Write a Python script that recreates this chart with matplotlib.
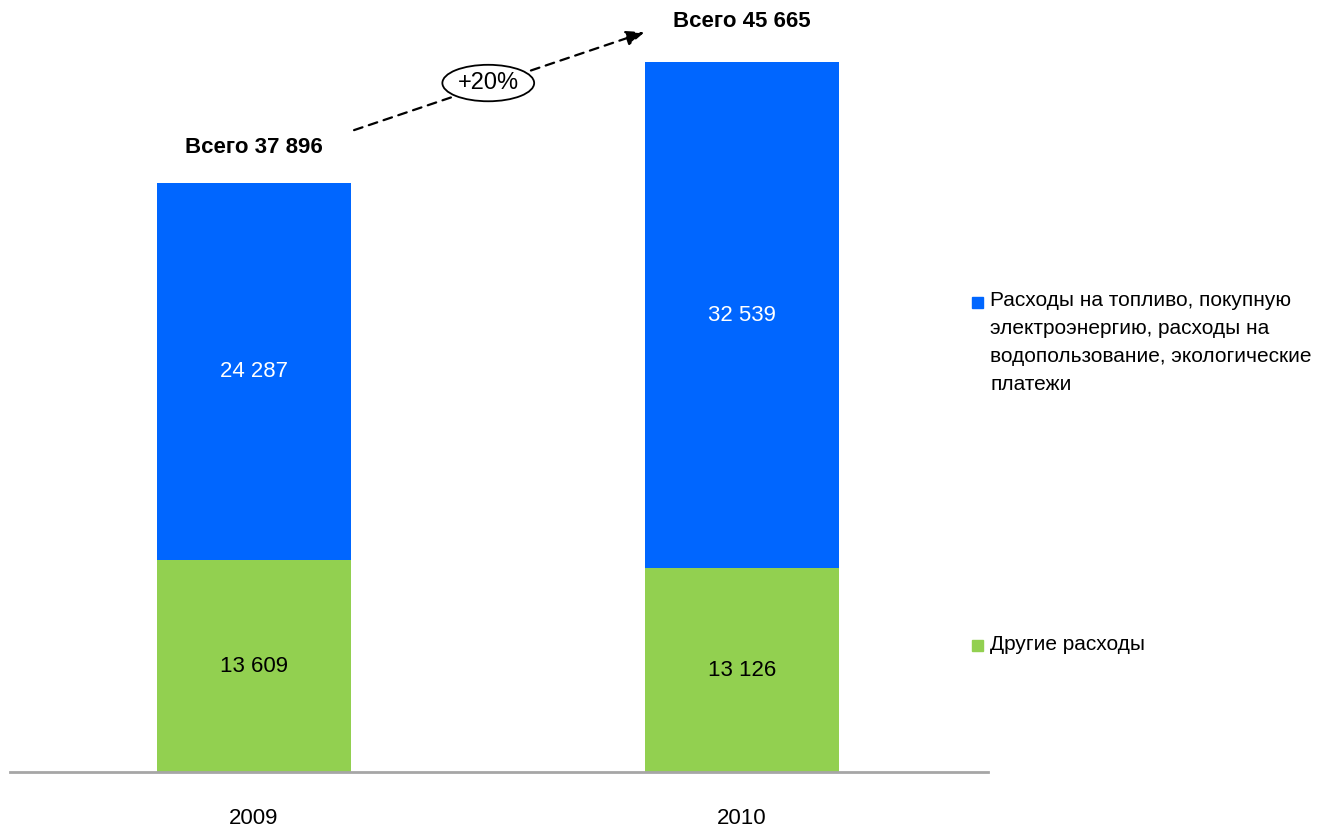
import matplotlib.pyplot as plt
from matplotlib import font_manager

years = ["2009", "2010"]
other = [13609, 13126]
fuel = [24287, 32539]
totals = [37896, 45665]
total_labels = ["Всего 37 896", "Всего 45 665"]
other_labels = ["13 609", "13 126"]
fuel_labels = ["24 287", "32 539"]
growth = "+20%"
legend_fuel = "Расходы на топливо, покупную\nэлектроэнергию, расходы на\nводопользование, экологические\nплатежи"
legend_other = "Другие расходы"

names = {f.name for f in font_manager.fontManager.ttflist}
font = "Liberation Sans Narrow" if "Liberation Sans Narrow" in names else "Liberation Sans"
plt.rcParams["font.family"] = [font, "DejaVu Sans"]

blue = "#0066FF"
green = "#92D050"

fig = plt.figure(figsize=(13.27, 8.27), dpi=100)
ax = fig.add_axes([10 / 1327, 55 / 827, 978 / 1327, 746 / 827])
x = range(len(years))
ax.bar(x, other, width=0.3975, color=green)
ax.bar(x, fuel, width=0.3975, bottom=other, color=blue)

for i in x:
    ax.text(i, other[i] / 2, other_labels[i], ha="center", va="center", fontsize=16, color="black")
    ax.text(i, other[i] + fuel[i] / 2, fuel_labels[i], ha="center", va="center", fontsize=16, color="white")

ax.text(0, totals[0] + 2300, total_labels[0], ha="center", va="center", fontsize=16, fontweight="bold")
ax.text(1, totals[1] + 2600, total_labels[1], ha="center", va="center", fontsize=16, fontweight="bold")

ax.annotate("", xy=(0.80, 47600), xytext=(0.205, 41300),
            arrowprops=dict(arrowstyle="-|>,head_length=1.1,head_width=0.45", ls=(0, (4, 3)),
                            color="black", lw=1.6, shrinkA=0, shrinkB=0))
ax.text(0.48, 44330, growth, ha="center", va="center", fontsize=17,
        bbox=dict(boxstyle="ellipse,pad=0.08", fc="white", ec="black", lw=1.3))

ax.set_xlim(-0.5, 1.504)
ax.set_ylim(0, 48000)
for s in ["top", "right", "left"]:
    ax.spines[s].set_visible(False)
ax.spines["bottom"].set_color("#A6A6A6")
ax.spines["bottom"].set_linewidth(2)
ax.set_yticks([])
ax.set_xticks(list(x))
ax.set_xticklabels(years, fontsize=16)
ax.tick_params(axis="x", length=0, pad=26)

# legend
fig.patches.append(plt.Rectangle((972 / 1327, 1 - 308 / 827), 11 / 1327, 11 / 827,
                                 transform=fig.transFigure, color=blue))
fig.text(990 / 1327, 1 - 291 / 827, legend_fuel, ha="left", va="top", fontsize=15, linespacing=1.6)
fig.patches.append(plt.Rectangle((972 / 1327, 1 - 651 / 827), 11 / 1327, 11 / 827,
                                 transform=fig.transFigure, color=green))
fig.text(990 / 1327, 1 - 645 / 827, legend_other, ha="left", va="center", fontsize=15)

fig.savefig("out.png", dpi=100)
